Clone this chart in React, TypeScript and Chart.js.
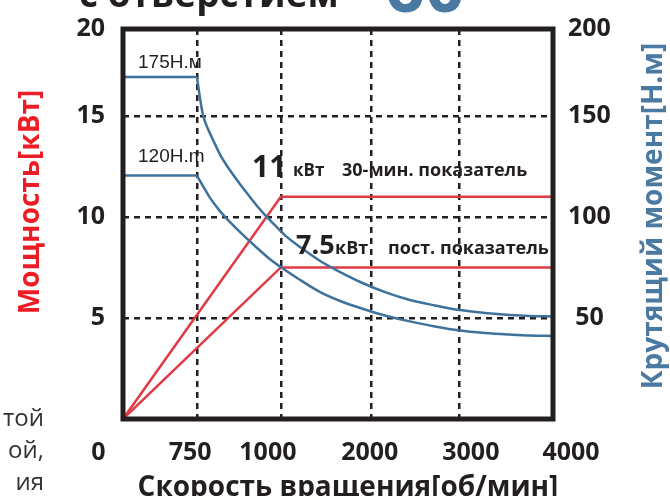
import React, { useEffect, useRef } from 'react';
import { Chart, registerables, LinearScale } from 'chart.js';

Chart.register(...registerables);

// ---------------- data ----------------
const RPM_TICKS = [0, 750, 1000, 2000, 3000, 4000];
const RPM_TICK_LABELS = ['0', '750', '1000', '2000', '3000', '4000'];

const POWER_MAX = 19.3;
const POWER_TICKS = [5, 10, 15, 19.3];
const POWER_TICK_LABELS = ['5', '10', '15', '20'];

const TORQUE_MAX = 193;
const TORQUE_TICKS = [50, 100, 150, 193];
const TORQUE_TICK_LABELS = ['50', '100', '150', '200'];

const POWER_RPM = [0, 1000, 4000];
const POWER_30MIN = [0, 11, 11];
const POWER_CONT = [0, 7.5, 7.5];

const TORQUE_HI_RPM = [0, 750, 759, 768, 783, 798, 821, 848, 878, 908, 932, 958, 988, 1067, 1213, 1436, 1658, 1880, 2159, 2443, 2727, 3011, 3277, 3543, 3755, 4000];
const TORQUE_HI = [169.2, 169.2, 158.9, 150.4, 143.5, 138.1, 130.2, 123.2, 116.3, 109.9, 104.9, 100.0, 95.0, 90.1, 85.1, 78.2, 72.7, 67.8, 62.8, 58.9, 56.2, 53.9, 52.5, 51.5, 51.0, 50.7];
const TORQUE_LO_RPM = [0, 750, 768, 789, 818, 848, 884, 923, 967, 1047, 1180, 1436, 1658, 1880, 2158, 2443, 2727, 3011, 3277, 3543, 3755, 4000];
const TORQUE_LO = [120.5, 120.5, 115.3, 109.4, 103.0, 97.5, 91.6, 85.6, 79.2, 73.7, 69.8, 62.8, 58.4, 54.9, 51.2, 48.3, 45.8, 43.8, 42.6, 41.8, 41.3, 41.1];

const BASE_SPEED = 750;

// ---------------- layout / style ----------------
const X_GRID_FRACS = [0, 0.172, 0.367, 0.577, 0.781, 1];
const X_LABEL_FRACS = [-0.057, 0.156, 0.337, 0.574, 0.809, 1.042];
const DARK = '#231f20';
const RED = '#e03a44';
const BLUE = '#3f729b';
const TITLE_RED = '#ee1c25';
const TITLE_BLUE = '#4a7aa2';
const FONT = '"Open Sans", "DejaVu Sans", sans-serif';

class PiecewiseScale extends LinearScale {
  static id = 'piecewise';
  static defaults = {};
  getPixelForValue(value: number) {
    const v = RPM_TICKS;
    const f = X_GRID_FRACS;
    let i = 0;
    while (i < v.length - 2 && value > v[i + 1]) i++;
    const t = (value - v[i]) / (v[i + 1] - v[i]);
    return this.getPixelForDecimal(f[i] + t * (f[i + 1] - f[i]));
  }
  getValueForPixel(pixel: number) {
    const d = this.getDecimalForPixel(pixel);
    const v = RPM_TICKS;
    const f = X_GRID_FRACS;
    let i = 0;
    while (i < f.length - 2 && d > f[i + 1]) i++;
    const t = (d - f[i]) / (f[i + 1] - f[i]);
    return v[i] + t * (v[i + 1] - v[i]);
  }
}
Chart.register(PiecewiseScale as any);

const pts = (xs: number[], ys: number[]) => xs.map((x, i) => ({ x, y: ys[i] }));
const flatPart = (xs: number[], ys: number[]) =>
  pts(xs, ys).filter((p) => p.x <= BASE_SPEED);
const curvePart = (xs: number[], ys: number[]) =>
  pts(xs, ys).filter((p) => p.x >= BASE_SPEED);

const textPlugin = {
  id: 'texts',
  afterDatasetsDraw(chart: any) {
    const { ctx, chartArea: a } = chart;
    ctx.save();
    ctx.strokeStyle = DARK;
    ctx.lineWidth = 5;
    ctx.setLineDash([]);
    ctx.strokeRect(a.left, a.top, a.right - a.left, a.bottom - a.top);
    ctx.restore();
  },
  afterDraw(chart: any) {
    const { ctx } = chart;
    const y = chart.scales.y;
    const y2 = chart.scales.y2;
    ctx.save();
    const txt = (s: string, x: number, yy: number, font: string, color: string, align = 'left') => {
      ctx.font = font;
      ctx.fillStyle = color;
      ctx.textAlign = align;
      ctx.textBaseline = 'alphabetic';
      ctx.fillText(s, x, yy);
    };
    // axis titles
    ctx.save();
    ctx.translate(31, 202);
    ctx.rotate(-Math.PI / 2);
    ctx.font = `bold 28px ${FONT}`;
    ctx.fillStyle = TITLE_RED;
    ctx.textAlign = 'center';
    ctx.textBaseline = 'middle';
    ctx.fillText('Мощность[кВт]', 0, 0);
    ctx.restore();

    ctx.save();
    ctx.translate(654, 216);
    ctx.rotate(-Math.PI / 2);
    ctx.font = `bold 28px ${FONT}`;
    ctx.fillStyle = TITLE_BLUE;
    ctx.textAlign = 'center';
    ctx.textBaseline = 'middle';
    ctx.fillText('Крутящий момент[Н.м]', 0, 0);
    ctx.restore();

    txt('Скорость вращения[об/мин]', 348, 496, `bold 28px ${FONT}`, DARK, 'center');

    // curve annotations
    txt('175Н.м', 138, y2.getPixelForValue(TORQUE_HI[0]) - 9, `19px "Liberation Sans", Arial, sans-serif`, DARK);
    txt('120Н.m', 138, y2.getPixelForValue(TORQUE_LO[0]) - 14, `19px "Liberation Sans", Arial, sans-serif`, DARK);

    const b1 = y.getPixelForValue(POWER_30MIN[1]) - 21;
    txt('11', 252, b1 + 1, `bold 30px ${FONT}`, DARK);
    txt('кВт', 293, b1, `bold 17px ${FONT}`, DARK);
    txt('30-мин. показатель', 342, b1, `bold 18px ${FONT}`, DARK);

    const b2 = y.getPixelForValue(POWER_CONT[1]) - 13;
    txt('7.5', 296, b2, `bold 27px ${FONT}`, DARK);
    txt('кВт', 335, b2, `bold 18px ${FONT}`, DARK);
    txt('пост. показатель', 388, b2, `bold 18px ${FONT}`, DARK);

    // cropped surrounding page text
    txt('с отверстием', 79, 7, `bold 37px ${FONT}`, DARK);
    txt('60', 385, 12, `bold 70px ${FONT}`, TITLE_BLUE);
    txt('той', 44, 426, `24px ${FONT}`, '#333333', 'right');
    txt('ой,', 44, 458, `24px ${FONT}`, '#333333', 'right');
    txt('ия', 44, 490, `24px ${FONT}`, '#333333', 'right');
    ctx.restore();
  },
};

export default function App() {
  const ref = useRef<HTMLCanvasElement>(null);
  useEffect(() => {
    if (!ref.current) return;
    Chart.defaults.font.family = FONT;
    const tickFont = { family: FONT, size: 25, weight: 'bold' as const };
    const blue = (data: any[], smooth: boolean) => ({
      data,
      yAxisID: 'y2',
      borderColor: BLUE,
      borderWidth: 2.5,
      pointRadius: 0,
      cubicInterpolationMode: smooth ? 'monotone' : 'default',
    });
    const chart = new Chart(ref.current, {
      type: 'line',
      data: {
        datasets: [
          blue(flatPart(TORQUE_HI_RPM, TORQUE_HI), false),
          blue(curvePart(TORQUE_HI_RPM, TORQUE_HI), true),
          blue(flatPart(TORQUE_LO_RPM, TORQUE_LO), false),
          blue(curvePart(TORQUE_LO_RPM, TORQUE_LO), true),
          {
            data: pts(POWER_RPM, POWER_30MIN),
            yAxisID: 'y',
            borderColor: RED,
            borderWidth: 2.5,
            pointRadius: 0,
          },
          {
            data: pts(POWER_RPM, POWER_CONT),
            yAxisID: 'y',
            borderColor: RED,
            borderWidth: 2.5,
            pointRadius: 0,
          },
        ],
      },
      options: {
        responsive: false,
        animation: false,
        layout: { padding: { top: 29, left: 0, right: 0, bottom: 0 } },
        plugins: { legend: { display: false }, tooltip: { enabled: false } },
        scales: {
          x: {
            type: 'piecewise' as any,
            position: 'bottom',
            min: 0,
            max: 4000,
            afterBuildTicks: (s: any) => {
              s.ticks = RPM_TICKS.map((v) => ({ value: v }));
            },
            afterFit: (s: any) => {
              s.height = 0;
              s.paddingLeft = 0;
              s.paddingRight = 0;
            },
            ticks: { display: false },
            grid: { color: DARK, lineWidth: 2.5, drawTicks: false },
            border: { display: false, dash: [6, 5] },
          },
          xl: {
            type: 'linear',
            position: 'bottom',
            min: 0,
            max: 1,
            afterBuildTicks: (s: any) => {
              s.ticks = X_LABEL_FRACS.map((v) => ({ value: v }));
            },
            afterFit: (s: any) => {
              s.height = 77;
              s.paddingLeft = 0;
              s.paddingRight = 0;
            },
            ticks: {
              autoSkip: false,
              maxRotation: 0,
              padding: 11,
              color: DARK,
              font: tickFont,
              callback: (_v: any, i: number) => RPM_TICK_LABELS[i],
            },
            grid: { display: false },
            border: { display: false },
          },
          y: {
            type: 'linear',
            position: 'left',
            min: 0,
            max: POWER_MAX,
            afterBuildTicks: (s: any) => {
              s.ticks = POWER_TICKS.map((v) => ({ value: v }));
            },
            afterFit: (s: any) => {
              s.width = 123;
              s.paddingTop = 0;
              s.paddingBottom = 0;
            },
            ticks: {
              padding: 18,
              color: DARK,
              font: tickFont,
              callback: (_v: any, i: number) => POWER_TICK_LABELS[i],
            },
            grid: { color: DARK, lineWidth: 2.5, drawTicks: false },
            border: { display: false, dash: [6, 5] },
          },
          y2: {
            type: 'linear',
            position: 'right',
            min: 0,
            max: TORQUE_MAX,
            afterBuildTicks: (s: any) => {
              s.ticks = TORQUE_TICKS.map((v) => ({ value: v }));
            },
            afterFit: (s: any) => {
              s.width = 117;
              s.paddingTop = 0;
              s.paddingBottom = 0;
            },
            ticks: {
              padding: 15,
              crossAlign: 'center',
              color: DARK,
              font: tickFont,
              callback: (_v: any, i: number) => TORQUE_TICK_LABELS[i],
            },
            grid: { display: false, drawTicks: false },
            border: { display: false },
          },
        },
      } as any,
      plugins: [textPlugin as any],
    });
    return () => chart.destroy();
  }, []);
  return (
    <div style={{ position: 'absolute', left: 0, top: 0, width: 670, height: 496 }}>
      <canvas ref={ref} width={670} height={496} style={{ display: 'block' }} />
    </div>
  );
}
